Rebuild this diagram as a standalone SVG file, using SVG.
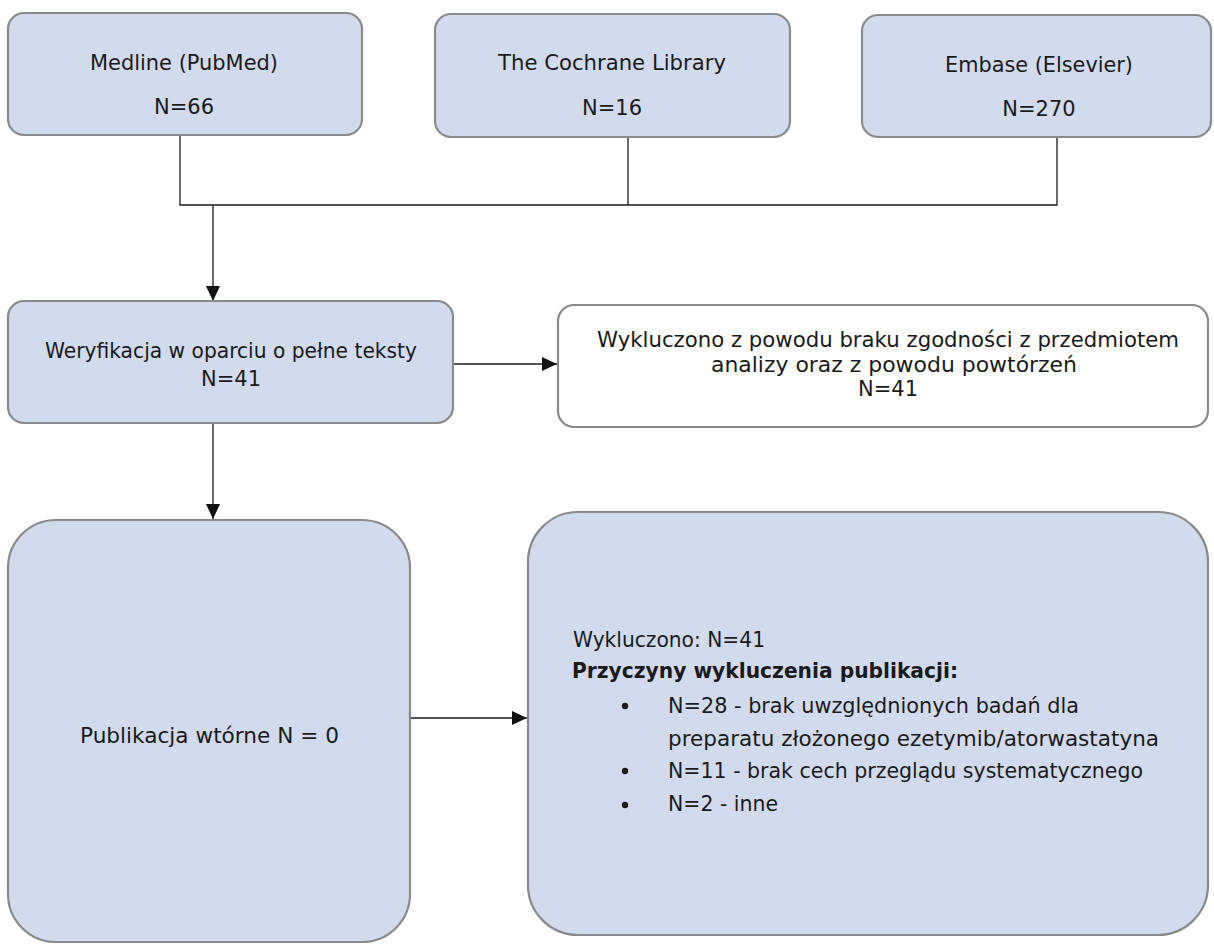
<svg xmlns="http://www.w3.org/2000/svg" width="1214" height="945" viewBox="0 0 1214 945">
<style>
.box{fill:#d2daee;stroke:#8a8a8a;stroke-width:2.2}
.wbox{fill:#ffffff;stroke:#8a8a8a;stroke-width:2.2}
text{font-family:"DejaVu Sans","Liberation Sans",sans-serif;font-size:21px;fill:#1a1a1a}
.c{text-anchor:middle}
.b{font-weight:bold}
.ln{fill:none;stroke:#1a1a1a;stroke-width:1.3}
</style>
<defs>
<marker id="ah" viewBox="0 0 15 14" refX="15" refY="7" markerWidth="15" markerHeight="14" markerUnits="userSpaceOnUse" orient="auto">
<path d="M0,0 L15,7 L0,14 z" fill="#111"/>
</marker>
</defs>
<rect width="1214" height="945" fill="#ffffff"/>
<g id="connectors">
<path class="ln" d="M180,135 V205 H1057 V137"/>
<path class="ln" d="M628,137 V205"/>
<path class="ln" d="M213,205 V301" marker-end="url(#ah)"/>
<path class="ln" d="M453,364 H557" marker-end="url(#ah)"/>
<path class="ln" d="M213,423 V519" marker-end="url(#ah)"/>
<path class="ln" d="M410,718 H527" marker-end="url(#ah)"/>
</g>
<g id="medline">
<rect class="box" x="8" y="13" width="354" height="122" rx="16"/>
<text class="c" x="184" y="70" textLength="188" lengthAdjust="spacingAndGlyphs">Medline (PubMed)</text>
<text class="c" x="184" y="114">N=66</text>
</g>
<g id="cochrane">
<rect class="box" x="435" y="14" width="355" height="123" rx="16"/>
<text class="c" x="612" y="70" textLength="228" lengthAdjust="spacingAndGlyphs">The Cochrane Library</text>
<text class="c" x="612" y="115">N=16</text>
</g>
<g id="embase">
<rect class="box" x="862" y="15" width="349" height="122" rx="16"/>
<text class="c" x="1039" y="72" textLength="188" lengthAdjust="spacingAndGlyphs">Embase (Elsevier)</text>
<text class="c" x="1039" y="116">N=270</text>
</g>
<g id="weryfikacja">
<rect class="box" x="8" y="301" width="445" height="122" rx="16"/>
<text class="c" x="231" y="358" textLength="372" lengthAdjust="spacingAndGlyphs">Weryfikacja w oparciu o pełne teksty</text>
<text class="c" x="231" y="386">N=41</text>
</g>
<g id="wykluczono1">
<rect class="wbox" x="558" y="305" width="650" height="122" rx="16"/>
<text class="c" x="888" y="347" textLength="582" lengthAdjust="spacingAndGlyphs">Wykluczono z powodu braku zgodności z przedmiotem</text>
<text class="c" x="894" y="372" textLength="366" lengthAdjust="spacingAndGlyphs">analizy oraz z powodu powtórzeń</text>
<text class="c" x="888" y="396">N=41</text>
</g>
<g id="wtorne">
<rect class="box" x="8" y="520" width="402" height="422" rx="48"/>
<text x="80" y="743" textLength="259" lengthAdjust="spacingAndGlyphs">Publikacja wtórne N = 0</text>
</g>
<g id="wykluczono2">
<rect class="box" x="528" y="512" width="680" height="423" rx="50"/>
<text x="573" y="647" textLength="192" lengthAdjust="spacingAndGlyphs">Wykluczono: N=41</text>
<text class="b" x="572" y="678" textLength="386" lengthAdjust="spacingAndGlyphs">Przyczyny wykluczenia publikacji:</text>
<circle cx="625" cy="706" r="3.2" fill="#1a1a1a"/>
<text x="668" y="713" textLength="411" lengthAdjust="spacingAndGlyphs">N=28 - brak uwzględnionych badań dla</text>
<text x="668" y="746" textLength="491" lengthAdjust="spacingAndGlyphs">preparatu złożonego ezetymib/atorwastatyna</text>
<circle cx="625" cy="771" r="3.2" fill="#1a1a1a"/>
<text x="668" y="778" textLength="475" lengthAdjust="spacingAndGlyphs">N=11 - brak cech przeglądu systematycznego</text>
<circle cx="625" cy="805" r="3.2" fill="#1a1a1a"/>
<text x="668" y="811" textLength="110" lengthAdjust="spacingAndGlyphs">N=2 - inne</text>
</g>
</svg>
